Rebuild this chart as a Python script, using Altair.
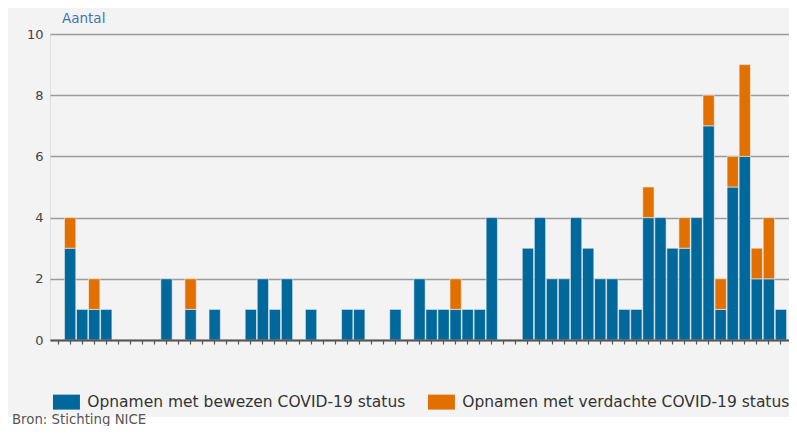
import altair as alt
import pandas as pd

# --- data ---
dagen = list(range(1, 62))
bewezen = [0, 3, 1, 1, 1, 0, 0, 0, 0, 2,
           0, 1, 0, 1, 0, 0, 1, 2, 1, 2,
           0, 1, 0, 0, 1, 1, 0, 0, 1, 0,
           2, 1, 1, 1, 1, 1, 4, 0, 0, 3,
           4, 2, 2, 4, 3, 2, 2, 1, 1, 4,
           4, 3, 3, 4, 7, 1, 5, 6, 2, 2,
           1]
verdacht = [0, 1, 0, 1, 0, 0, 0, 0, 0, 0,
            0, 1, 0, 0, 0, 0, 0, 0, 0, 0,
            0, 0, 0, 0, 0, 0, 0, 0, 0, 0,
            0, 0, 0, 1, 0, 0, 0, 0, 0, 0,
            0, 0, 0, 0, 0, 0, 0, 0, 0, 1,
            0, 0, 1, 0, 1, 1, 1, 3, 1, 2,
            0]
statussen = ["Opnamen met bewezen COVID-19 status",
             "Opnamen met verdachte COVID-19 status"]
kleuren = ["#01689b", "#e17000"]
y_ticks = [0, 2, 4, 6, 8, 10]

rows = []
for d, b, v in zip(dagen, bewezen, verdacht):
    if b > 0:
        rows.append({"dag": d, "status": statussen[0], "aantal": b, "volgorde": 0})
    if v > 0:
        rows.append({"dag": d, "status": statussen[1], "aantal": v, "volgorde": 1})
df = pd.DataFrame(rows)

FONT = "DejaVu Sans"

bars = alt.Chart(df).mark_bar(stroke="#f3f3f3", strokeWidth=0.6).encode(
    x=alt.X("dag:O", sort=None,
            scale=alt.Scale(domain=dagen, paddingInner=0.06, paddingOuter=0.2),
            axis=alt.Axis(labels=False, title=None, ticks=True, tickSize=4,
                          tickColor="#555555", tickWidth=1.2,
                          domainColor="#555555", domainWidth=2, grid=False,
                          zindex=1)),
    y=alt.Y("aantal:Q", stack="zero",
            scale=alt.Scale(domain=[0, 10], nice=False),
            axis=alt.Axis(values=y_ticks, domain=False, ticks=False,
                          grid=True, gridColor="#9a9a9a", gridWidth=1.5,
                          labelPadding=7, labelFontSize=13, labelColor="#444444",
                          labelFont=FONT, title=None)),
    color=alt.Color("status:N",
                    scale=alt.Scale(domain=statussen, range=kleuren),
                    legend=alt.Legend(orient="none", legendX=8.7, legendY=360,
                                      direction="horizontal", title=None,
                                      symbolType="M-1.8,-1H1.8V1H-1.8Z",
                                      symbolSize=225, symbolStrokeWidth=0,
                                      labelFontSize=15.5, labelColor="#333333",
                                      labelFont=FONT, labelOffset=13,
                                      columnPadding=22, labelLimit=500,
                                      padding=0)),
    order=alt.Order("volgorde:Q"),
)

one = pd.DataFrame({"k": [0]})
strip = alt.Chart(one).mark_rect(color="white").encode(
    x=alt.value(-42), x2=alt.value(760), y=alt.value(383), y2=alt.value(392)
)
aantal = alt.Chart(one).mark_text(
    text="Aantal", align="left", baseline="middle",
    fontSize=13.5, color="#3e74b3", font=FONT
).encode(x=alt.value(12), y=alt.value(-15))
bron = alt.Chart(one).mark_text(
    text="Bron: Stichting NICE", align="left", baseline="alphabetic",
    fontSize=13.3, color="#555555", font=FONT
).encode(x=alt.value(-38), y=alt.value(390))

chart = alt.layer(strip, bars, aantal, bron).properties(
    width=739, height=306,
    autosize=alt.AutoSizeParams(type="none"),
    padding={"left": 42, "top": 26, "right": 0, "bottom": 86},
    background="#f3f3f3",
).configure_view(stroke=None).configure(font=FONT)

chart.save("out.html", embed_options={"renderer": "svg", "actions": False})
